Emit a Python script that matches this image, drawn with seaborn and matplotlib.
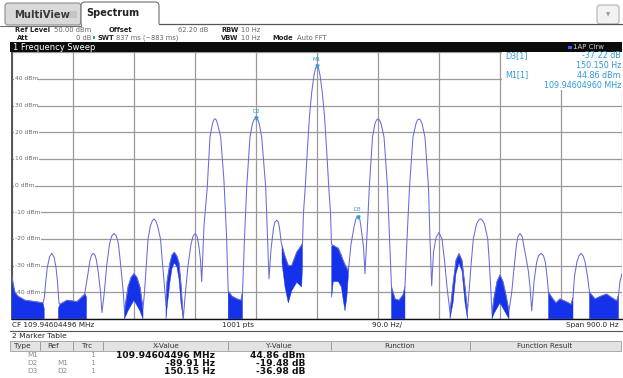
import numpy as np
import matplotlib
matplotlib.use("Agg")
import matplotlib.pyplot as plt
import seaborn as sns
from matplotlib.patches import Rectangle, FancyBboxPatch
from matplotlib.transforms import Affine2D
from matplotlib.lines import Line2D

sns.set_style("white")
plt.rcParams['font.family'] = ['DejaVu Sans']

# ---------------- data ----------------
span_start_hz = -450
span_stop_hz = 450
div_hz = 90
ref_level = 50
bottom_level = -50
y_ticks = [40, 30, 20, 10, 0, -10, -20, -30, -40]

trace_hz = [
    -450, -448.5, -445.6, -441.1, -430.8, -416.1, -404.3,
    -402.3, -400.6, -397.9, -394.7, -391.4, -388.0, -385.1, -382.9, -380.7,
    -379.2, -368.9, -354.1, -343.0,
    -337.9, -334.9, -332.5, -330.1, -327.7, -325.4, -322.4, -319.4, -317.3,
    -313.8, -310.3, -306.1, -303.1, -299.5, -295.8, -292.9, -289.6, -285.8, -284.0,
    -278.8, -274.4, -270.0, -265.6, -261.2, -256.7,
    -254.5, -251.9, -249.3, -245.7, -243.0, -240.5, -238.0, -235.3, -230.9, -227.7, -224.3, -222.8,
    -221.3, -216.9, -213.9, -210.5, -206.6, -203.6, -200.7, -197.3,
    -194.8, -190.3, -185.9, -182.9, -180.0, -177.0, -174.1, -171.9, -170.1,
    -166.7, -161.9, -157.9, -154.2, -152.3, -150.5, -148.7, -146.8, -142.1, -137.3, -133.6, -131.0,
    -125.4, -118.0, -112.1, -109.9,
    -107.0, -103.7, -98.9, -95.2, -92.5, -89.9, -87.5, -85.3, -81.6, -75.7, -73.0, -70.8,
    -67.9, -64.2, -62.0, -59.5, -57.0, -55.3, -52.4,
    -51.6, -47.2, -42.3, -37.3, -29.9, -22.6, -21.4,
    -19.9, -17.7, -14.3, -11.1, -7.8, -4.4, -2.2, 0.0, 2.2, 4.4, 7.8, 11.1, 14.3, 17.7, 19.9, 21.4,
    24.5, 31.4, 38.8, 46.2,
    50.2, 54.6, 57.5, 60.24, 63.0, 64.9, 68.6, 70.8,
    74.5, 77.2, 81.9, 85.6, 87.8, 90.0, 92.2, 94.4, 98.9, 104.0, 107.0, 109.9,
    115.1, 121.0, 126.9, 129.8,
    132.8, 136.5, 141.6, 146.1, 148.3, 150.5, 152.7, 154.9, 159.3, 164.5, 166.7, 169.2,
    171.9, 175.6, 180.0, 184.4, 188.1, 191.8, 196.2,
    200.7, 205.1, 209.5, 213.9, 218.4, 222.0,
    224.3, 227.2, 230.6, 235.3, 238.3, 241.2, 244.1, 247.1, 251.9, 254.5, 256.7, 258.2,
    261.2, 265.6, 270.0, 274.4, 278.8, 283.3,
    287.3, 291.1, 294.4, 296.6, 299.5, 302.5, 304.7, 308.4, 311.8, 314.3, 316.8,
    320.2, 323.9, 326.8, 330.5, 334.2, 337.1, 339.3, 341.6,
    346.7, 352.6, 358.5, 367.4, 374.8, 377.7,
    379.9, 383.6, 386.6, 389.5, 392.5, 395.4, 399.1, 402.0,
    410.2, 420.1, 427.5, 434.8, 442.2, 444.9, 447.0, 450.0,
]
trace_dbm = [
    -33.8, -36.5, -40, -41.5, -43, -43.5, -44,
    -42, -37, -30.7, -26.8, -25.4, -26.8, -30.7, -36, -44,
    -44.5, -43, -43.5, -41,
    -33, -28, -26, -25.4, -26, -28, -33, -40, -47.6,
    -40, -30, -22, -19, -18, -19, -22, -30, -40, -47,
    -38, -34.5, -33, -34.5, -38, -46,
    -40, -30, -20, -15, -13.2, -12.5, -13.2, -15, -20, -30, -40, -45,
    -36, -29, -26, -25, -26.5, -29, -37, -50,
    -42, -30, -22, -19, -18, -19, -23, -28, -36,
    -15, -0.6, 18.2, 23.3, 24.6, 25.1, 24.6, 23.3, 18.2, 2, -18, -39.5,
    -41.5, -42.5, -43, -40,
    -20, -0.6, 18.2, 23.3, 24.9, 25.38, 24.9, 23.3, 18.2, -0.6, -20, -35,
    -24, -16, -13.6, -13, -13.6, -16, -22,
    -22.5, -26.5, -30, -30, -25, -22.3, -21.7,
    -10, -2, 13, 26, 35, 41.5, 44, 44.86, 44, 41.5, 35, 26, 13, -2, -10, -22,
    -22.5, -23.5, -28.2, -32,
    -22, -15.5, -12.4, -11.6, -12.4, -15.5, -23, -33,
    -15, -0.6, 18.2, 23.3, 24.6, 25, 24.6, 23.3, 18.2, -0.6, -20, -38,
    -42.5, -43, -41, -38,
    -20, -0.6, 18.2, 23.3, 24.6, 25, 24.6, 23.3, 18.2, -0.6, -20, -37.6,
    -25, -19.5, -17.6, -20, -28, -38, -47.6,
    -37, -28, -25.5, -28, -38, -47,
    -40, -30, -20, -14.5, -13, -12.5, -13, -14.5, -20, -30, -40, -48,
    -42, -36, -33.5, -36, -41, -47,
    -40, -30, -22, -19, -18, -19, -22, -27, -32, -38, -47,
    -36, -29, -26.3, -25.4, -26.3, -29, -34, -40,
    -42, -44, -42.5, -43.5, -44.5, -42,
    -34, -28.5, -26.3, -25.4, -26.3, -28.5, -34, -40,
    -42.5, -41.3, -40.7, -42, -43.2, -41, -36, -33,
]

nan = np.nan
noise_hz = [
    -450, -448.5, -445.6, -441.1, -430.8, -416.1, -404.3, -402.5, nan,
    -381.5, -379.2, -368.9, -354.1, -342.3, -340.0, nan,
    -284.0, -278.8, -274.4, -270.0, -265.6, -261.2, -256.7, nan,
    -222.8, -221.3, -216.9, -213.9, -210.5, -206.6, -203.6, -200.7, -197.3, nan,
    -131.0, -125.4, -118.0, -112.1, -109.9, nan,
    -51.6, -47.2, -42.3, -37.3, -29.9, -22.6, -21.4, nan,
    21.7, 24.0, 31.4, 36.0, 38.8, 41.3, 44.0, 46.2, nan,
    109.9, 115.1, 121.0, 126.9, 129.8, nan,
    196.2, 200.7, 205.1, 209.5, 213.9, 218.4, 222.0, nan,
    258.2, 261.2, 265.6, 270.0, 274.4, 278.8, 283.3, nan,
    341.6, 346.7, 352.6, 358.5, 367.4, 374.8, 377.7, nan,
    402.0, 410.2, 420.1, 427.5, 434.8, 442.2, 444.9,
]
noise_top = [
    -35, -37, -40, -41.5, -43, -43.5, -44, -46, nan,
    -46, -44.5, -43, -43.5, -40.5, -42, nan,
    -47, -38, -34.5, -33, -34.5, -38, -46, nan,
    -45, -36, -29, -26, -25, -26.5, -29, -37, -50, nan,
    -39.5, -41.5, -42.5, -43, -40, nan,
    -22.5, -26.5, -30, -30, -25, -22.3, -21.7, nan,
    -22.6, -22.5, -23.5, -26, -28.2, -30, -31, -32, nan,
    -38, -42.5, -43, -41, -38, nan,
    -47.6, -37, -28, -25.5, -28, -38, -47, nan,
    -48, -42, -36, -33.5, -36, -41, -47, nan,
    -40, -42, -44, -42.5, -43.5, -44.5, -42, nan,
    -40, -42.5, -41.3, -40.7, -42, -43.2, -41,
]
noise_bottom = [
    -50, -50, -50, -50, -50, -50, -50, -50, nan,
    -50, -50, -50, -50, -50, -50, nan,
    -50, -47, -45, -43, -45, -47, -50, nan,
    -50, -46, -36, -31, -29, -30.5, -35, -44, -50, nan,
    -50, -50, -50, -50, -50, nan,
    -29, -38, -44, -39.5, -36.3, -38, -30, nan,
    -42, -36, -36, -38, -43, -47, -42, -34, nan,
    -50, -50, -50, -50, -50, nan,
    -50, -44, -33, -29, -32, -44, -50, nan,
    -50, -48, -46, -44, -46, -48, -50, nan,
    -50, -50, -50, -50, -50, -50, -50, nan,
    -50, -50, -50, -50, -50, -50, -50,
]

marker_names = ["M1", "D2", "D3"]
marker_hz = [0.0, -89.91, 60.24]
marker_dbm = [44.86, 25.38, -11.6]

# ---------------- figure ----------------
W, H = 623, 378
fig = plt.figure(figsize=(W / 100, H / 100), dpi=100)
fig.patch.set_facecolor("white")
tr = Affine2D().scale(1, -1).translate(0, H)  # pixel coords, y from top


def T(x, y, s, size=5.0, color="#333333", weight="normal", ha="left", family=None, **kw):
    fam = family if family else ["DejaVu Sans"]
    fig.text(x, y, s, transform=tr, fontsize=size, color=color, fontweight=weight,
             ha=ha, va="center", family=fam, **kw)


def R(x0, y0, x1, y1, fc, ec="none", lw=0.8, z=1, rounding=0):
    if rounding:
        p = FancyBboxPatch((x0, y0), x1 - x0, y1 - y0,
                           boxstyle=f"round,pad=0,rounding_size={rounding}",
                           transform=tr, fc=fc, ec=ec, lw=lw, zorder=z)
    else:
        p = Rectangle((x0, y0), x1 - x0, y1 - y0, transform=tr, fc=fc, ec=ec, lw=lw, zorder=z)
    fig.add_artist(p)


def L(x0, y0, x1, y1, color="#555555", lw=0.8, z=2):
    fig.add_artist(Line2D([x0, x1], [y0, y1], transform=tr, color=color, lw=lw, zorder=z))


# tabs
R(5, 3, 81, 25, "#d9d9d9", "#8c8c8c", 0.8, 1, 3)
T(14, 14.5, "MultiView", 7.2, "#3a3a3a", "bold")
R(69, 11, 77, 18, "#c4c4c4", "none", 0, 2)
R(81, 2, 159, 27, "white", "#6e6e6e", 0.8, 2, 4)
R(81.5, 23.6, 158.5, 28, "white", "none", 0, 3)
L(0, 25.5, 81, 25.5, "#6e6e6e", 0.8, 4)
L(158.6, 23.6, 623, 23.6, "#555555", 0.9, 4)
T(86, 13.5, "Spectrum", 7.0, "#222222", "bold")
R(597, 5, 619, 24, "#f2f2f2", "#b0b0b0", 0.8, 2, 3)
T(608, 14.5, "\u25bc", 4.0, "#9a9a9a", ha="center")

# header info
T(15, 29.5, "Ref Level", 4.9, "#222222", "bold")
T(54, 29.5, "50.00 dBm", 4.9, "#666666")
T(109, 29.5, "Offset", 4.9, "#222222", "bold")
T(208, 29.5, "62.20 dB", 4.9, "#666666", ha="right")
T(221, 29.5, "RBW", 4.9, "#222222", "bold")
T(241, 29.5, "10 Hz", 4.9, "#666666")
T(17, 37.5, "Att", 4.9, "#222222", "bold")
T(91, 37.5, "0 dB", 4.9, "#666666", ha="right")
R(92.5, 35.9, 95.3, 38.9, "#2fb24a", "none", 0, 3)
T(97, 37.5, "SWT", 4.8, "#222222", "bold")
T(116, 37.5, "837 ms (~883 ms)", 4.8, "#666666")
T(221, 37.5, "VBW", 4.9, "#222222", "bold")
T(241, 37.5, "10 Hz", 4.9, "#666666")
T(272, 37.5, "Mode", 4.9, "#222222", "bold")
T(297, 37.5, "Auto FFT", 4.9, "#666666")

# title bar
R(10, 42, 622, 52, "#0b0b0b", "none", 0, 3)
T(13, 47, "1 Frequency Sweep", 6.0, "white")
R(568, 45.5, 571.5, 49, "#3c5cff", "none", 0, 4)
T(573, 47, "1AP Clrw", 5.0, "#d0d0d0")

# ---------------- plot ----------------
ax = fig.add_axes([12 / W, (H - 318.9) / H, 610 / W, 266.6 / H])
ax.set_xlim(span_start_hz, span_stop_hz)
ax.set_ylim(bottom_level, ref_level)
ax.set_xticks(np.arange(span_start_hz, span_stop_hz + 1, div_hz))
ax.set_yticks(np.arange(bottom_level, ref_level + 1, 10))
ax.set_axisbelow(True)
ax.grid(True, color="#9a9a9a", lw=0.9)
ax.tick_params(length=0, labelbottom=False, labelleft=False)
for s in ["top", "right"]:
    ax.spines[s].set_visible(False)
ax.spines["left"].set_color("#555555")
ax.spines["left"].set_linewidth(1.4)
ax.spines["bottom"].set_color("#111111")
ax.spines["bottom"].set_linewidth(1.0)
ax.set_xlabel("")
ax.set_ylabel("")

for v in y_ticks:
    ax.text(-446, v, f"{v} dBm", fontsize=4.3, color="#6a6a6a", ha="left", va="center",
            bbox=dict(fc="white", ec="none", pad=0.4), zorder=1.5)

ax.fill_between(noise_hz, noise_bottom, noise_top, color="#1432ea", lw=0.3, zorder=3)
sns.lineplot(x=trace_hz, y=trace_dbm, sort=False, estimator=None, ax=ax,
             color="#6a6ad8", lw=0.75, zorder=4)

# marker info block
ax.add_patch(Rectangle((273, 36), 177, 14, fc="white", ec="none", zorder=1.6))
mc = "#2f9bd6"
for name, hz, db in zip(marker_names, marker_hz, marker_dbm):
    ax.plot([hz], [db], marker="v", ms=2.2, color=mc, ls="none", zorder=5)
    ax.text(hz, db + 1.6, name, fontsize=4.0, color=mc, ha="center", va="bottom", zorder=5)

T(505, 56, "D3[1]", 5.8, mc)
T(621, 56, "-37.22 dB", 5.8, mc, ha="right")
T(621, 65.5, "150.150 Hz", 5.8, mc, ha="right")
T(505, 75, "M1[1]", 5.8, mc)
T(621, 75, "44.86 dBm", 5.8, mc, ha="right")
T(621, 85, "109.94604960 MHz", 5.8, mc, ha="right")

# bottom status bar
L(10, 330.5, 622, 330.5, "#555555", 0.8)
T(12, 325, "CF 109.94604496 MHz", 5.2, "#222222")
T(222, 325, "1001 pts", 5.2, "#222222")
T(372, 325, "90.0 Hz/", 5.2, "#222222")
T(619, 325, "Span 900.0 Hz", 5.2, "#222222", ha="right")

# marker table
T(12, 336.5, "2 Marker Table", 5.4, "#222222")
R(10, 341, 621, 351, "#e3e3e3", "#a8a8a8", 0.7, 2)
for xs in [40, 73, 103, 228, 331, 470]:
    L(xs, 342, xs, 350, "#9a9a9a", 0.7, 3)
T(14, 346, "Type", 5.2, "#333333")
T(47, 346, "Ref", 5.2, "#333333")
T(82, 346, "Trc", 5.2, "#333333")
T(166, 346, "X-Value", 5.2, "#333333", ha="center")
T(279, 346, "Y-Value", 5.2, "#333333", ha="center")
T(400, 346, "Function", 5.2, "#333333", ha="center")
T(545, 346, "Function Result", 5.2, "#333333", ha="center")

table_type = ["M1", "D2", "D3"]
table_ref = ["", "M1", "D2"]
table_trc = ["1", "1", "1"]
table_x = ["109.94604496 MHz", "-89.91 Hz", "150.15 Hz"]
table_y = ["44.86 dBm", "-19.48 dB", "-36.98 dB"]
for i, yy in enumerate([355, 363, 371]):
    T(27, yy, table_type[i], 5.2, "#8a8a8a")
    T(57, yy, table_ref[i], 5.2, "#8a8a8a")
    T(90, yy, table_trc[i], 5.2, "#8a8a8a")
    T(215, yy, table_x[i], 6.6, "#111111", "bold", ha="right")
    T(305, yy, table_y[i], 6.6, "#111111", "bold", ha="right")

fig.savefig("out.png", dpi=100)
